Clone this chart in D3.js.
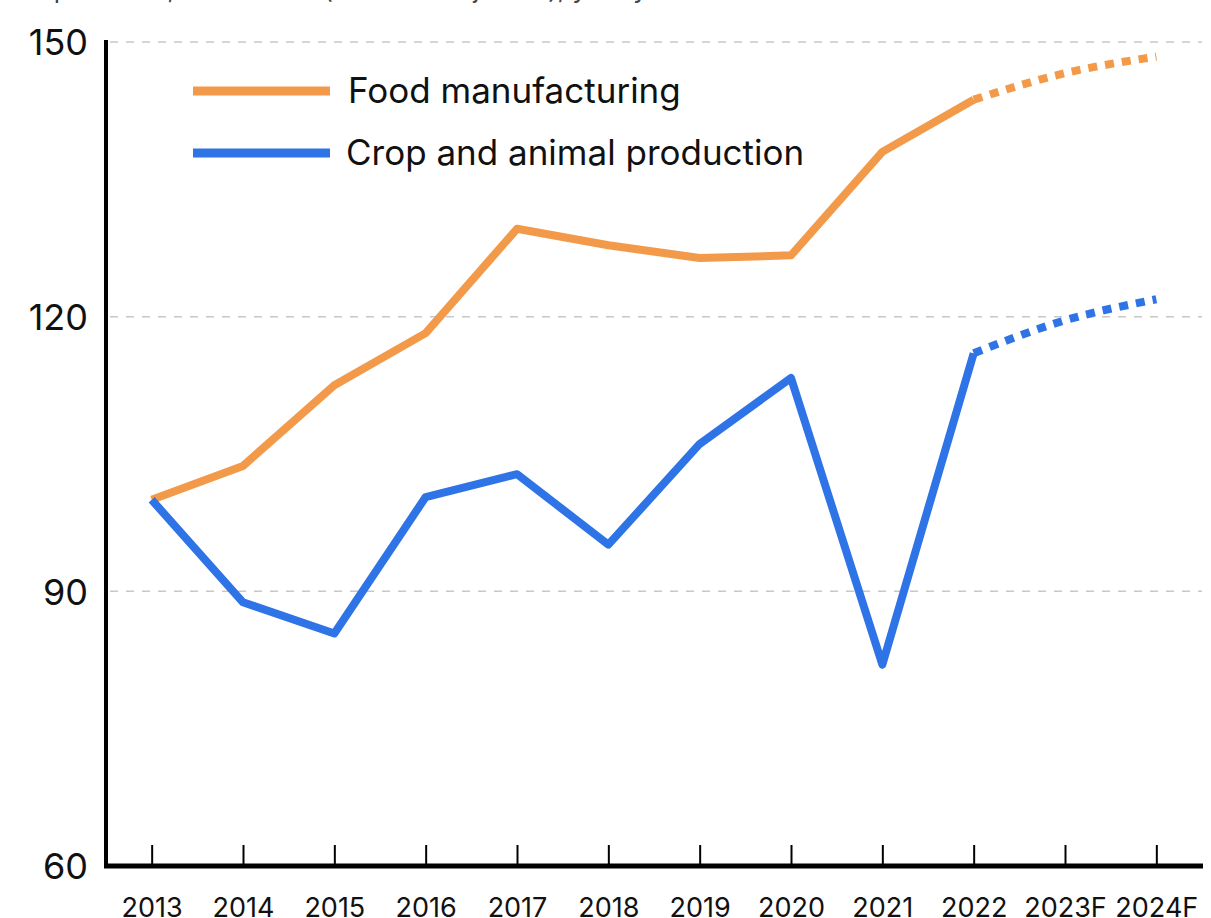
<!DOCTYPE html>
<html>
<head>
<meta charset="utf-8">
<script src="https://cdn.jsdelivr.net/npm/d3@7"></script>
<style>
  html, body { margin: 0; padding: 0; background: #fff; overflow: hidden; }
  svg { display: block; font-family: Inter, "Noto Sans", sans-serif; }
</style>
</head>
<body>
<svg id="chart" width="1211" height="918"></svg>
<script>
// Categories and series (index, 2013 = 100)
const years = ["2013", "2014", "2015", "2016", "2017", "2018", "2019", "2020", "2021", "2022", "2023F", "2024F"];
const foodManufacturing = [100, 103.7, 112.5, 118.2, 129.6, 127.8, 126.4, 126.7, 138.0, 143.7, 146.6, 148.4];
const cropAnimal = [100, 88.8, 85.4, 100.3, 102.8, 95.1, 106.1, 113.3, 82.0, 116.0, 119.6, 121.9];
const yTicks = [60, 90, 120, 150];
const firstForecast = "2022"; // forecast segment starts from the last actual year
const seriesNames = ["Food manufacturing", "Crop and animal production"];
const seriesColors = ["#F39A4A", "#2F74E6"];

const svg = d3.select("#chart");

const x = d3.scalePoint().domain(years).range([106, 1202]).padding(0.5);
const y = d3.scaleLinear().domain([60, 150]).range([866, 42]);

// Subtitle (sits mostly above the visible area)
svg.append("text")
  .attr("x", 10).attr("y", -2)
  .attr("font-size", 26).attr("fill", "#444")
  .text("Output index, 2013 = 100 (inflation-adjusted), yearly");

// Gridlines
svg.append("g")
  .selectAll("line")
  .data(yTicks.filter(d => d !== 60))
  .join("line")
  .attr("x1", 110).attr("x2", 1202)
  .attr("y1", d => y(d)).attr("y2", d => y(d))
  .attr("stroke", "#c8c8c8").attr("stroke-width", 1.5)
  .attr("stroke-dasharray", "8,8");

// Y axis
const yAxis = svg.append("g")
  .attr("transform", "translate(106,0)")
  .call(d3.axisLeft(y).tickValues(yTicks).tickSize(0).tickPadding(18));
yAxis.select(".domain").attr("stroke", "#000").attr("stroke-width", 4)
  .attr("d", `M0,${y(150) - 2}V${y(60)}`);
yAxis.selectAll("text").attr("font-size", 36).attr("fill", "#111")
  .attr("font-family", "Inter, sans-serif").attr("dy", "0.36em");

// X axis
const xAxis = svg.append("g")
  .attr("transform", `translate(0,${y(60)})`)
  .call(d3.axisBottom(x).tickSize(-21).tickPadding(0));
xAxis.select(".domain").attr("stroke", "#000").attr("stroke-width", 5)
  .attr("d", "M104,0H1203");
xAxis.selectAll(".tick line").attr("stroke", "#000").attr("stroke-width", 2);
xAxis.selectAll("text").attr("font-size", 27).attr("fill", "#111")
  .attr("font-family", "Inter, sans-serif").attr("y", 51).attr("dy", "0");

// Lines: solid for actual years, dotted for forecast years
const series = [foodManufacturing, cropAnimal];
const cut = years.indexOf(firstForecast);
const solid = d3.line().x(d => x(d.year)).y(d => y(d.value));
const dotted = d3.line().curve(d3.curveMonotoneX).x(d => x(d.year)).y(d => y(d.value));

series.forEach((vals, i) => {
  const pts = years.map((yr, j) => ({ year: yr, value: vals[j] }));
  svg.append("path")
    .datum(pts.slice(0, cut + 1))
    .attr("d", solid)
    .attr("fill", "none")
    .attr("stroke", seriesColors[i])
    .attr("stroke-width", 8)
    .attr("stroke-linejoin", "round");
  svg.append("path")
    .datum(pts.slice(cut))
    .attr("d", dotted)
    .attr("fill", "none")
    .attr("stroke", seriesColors[i])
    .attr("stroke-width", 8)
    .attr("stroke-dasharray", "9,8");
});

// Legend
const legend = svg.append("g");
seriesNames.forEach((name, i) => {
  const ly = 91 + i * 62;
  legend.append("line")
    .attr("x1", 193).attr("x2", 330)
    .attr("y1", ly).attr("y2", ly)
    .attr("stroke", seriesColors[i]).attr("stroke-width", 9);
  legend.append("text")
    .attr("x", i === 0 ? 348 : 346).attr("y", ly)
    .attr("dy", "0.35em")
    .attr("font-size", 35).attr("fill", "#111")
    .text(name);
});
</script>
</body>
</html>
